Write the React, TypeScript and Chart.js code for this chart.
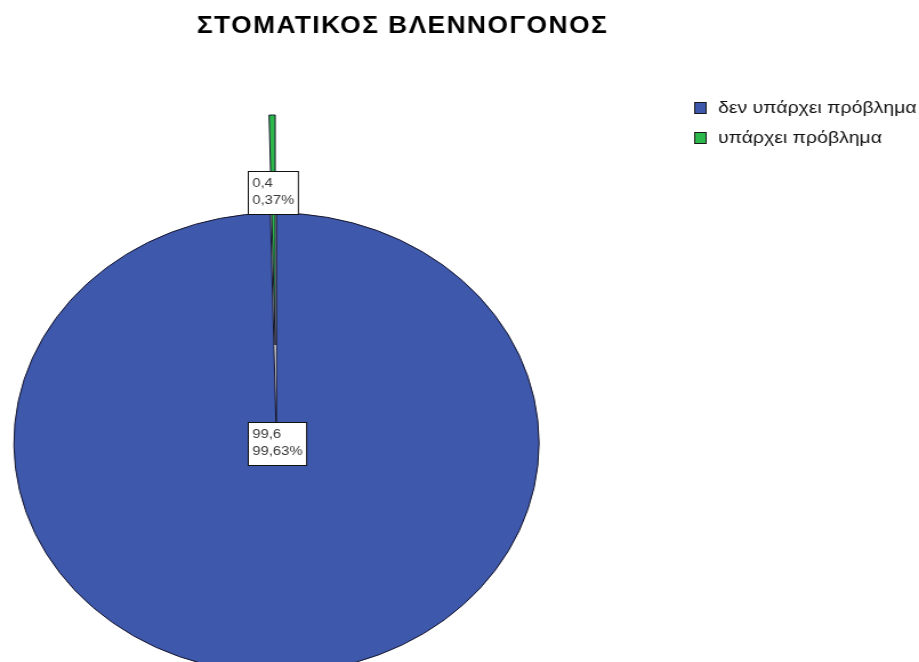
import React, { useEffect, useRef } from 'react';
import { Chart, ArcElement, registerables } from 'chart.js';

Chart.register(...registerables);

const TITLE = 'ΣΤΟΜΑΤΙΚΟΣ ΒΛΕΝΝΟΓΟΝΟΣ';
const categories = ['δεν υπάρχει πρόβλημα', 'υπάρχει πρόβλημα'];
const values = [99.63, 0.37];
const colors = ['#3E58AC', '#2DB84B'];

const W = 919;
const H = 662;
const CW = 805; // canvas drawing width, stretched horizontally to W (the original is stretched)
const SX = W / CW;
const CX = 242.2;
const CY = 443;
const R = 230;
const EXPLODE = [0, 98];
const LABEL_FRAC = [0, 0.665];
const FONT = '"Liberation Sans", Arial, Helvetica, sans-serif';

const explodePlugin = {
  id: 'explodeSlices',
  beforeDatasetDraw(chart: any, args: any) {
    const meta = args.meta;
    meta.data.forEach((el: any, i: number) => {
      const d = EXPLODE[i] || 0;
      if (!d || el.__patched) return;
      el.__patched = true;
      el.draw = function (ctx: CanvasRenderingContext2D) {
        const mid = (this.startAngle + this.endAngle) / 2;
        ctx.save();
        ctx.translate(Math.cos(mid) * d, Math.sin(mid) * d);
        ArcElement.prototype.draw.call(this, ctx);
        ctx.restore();
      };
    });
  },
};

const decorPlugin = {
  id: 'decor',
  afterDraw(chart: any) {
    const ctx: CanvasRenderingContext2D = chart.ctx;
    ctx.save();
    // title
    ctx.fillStyle = '#000';
    ctx.font = `bold 23px ${FONT}`;
    (ctx as any).letterSpacing = '1.3px';
    ctx.textAlign = 'center';
    ctx.textBaseline = 'alphabetic';
    ctx.fillText(TITLE, 352.6, 33);
    (ctx as any).letterSpacing = '0px';

    // legend
    ctx.textAlign = 'left';
    ctx.textBaseline = 'middle';
    ctx.font = `17px ${FONT}`;
    categories.forEach((c, i) => {
      const y = 108 + i * 30;
      ctx.fillStyle = colors[i];
      ctx.fillRect(608.5, y - 5.5, 10, 11);
      ctx.strokeStyle = '#1a1a1a';
      ctx.lineWidth = 1;
      ctx.strokeRect(608.5, y - 5.5, 10, 11);
      ctx.fillStyle = '#111';
      ctx.fillText(c, 629, y);
    });

    // slice labels
    const meta = chart.getDatasetMeta(0);
    const total = values.reduce((a, b) => a + b, 0);
    ctx.font = `13px ${FONT}`;
    meta.data.forEach((el: any, i: number) => {
      const p = el.getProps(['x', 'y', 'startAngle', 'endAngle', 'outerRadius'], true);
      const mid = (p.startAngle + p.endAngle) / 2;
      const d = EXPLODE[i] + LABEL_FRAC[i] * p.outerRadius;
      const lx = p.x + Math.cos(mid) * d;
      const ly = p.y + Math.sin(mid) * d;
      const l1 = values[i].toFixed(1).replace('.', ',');
      const l2 = ((values[i] / total) * 100).toFixed(2).replace('.', ',') + '%';
      const tw = Math.max(ctx.measureText(l1).width, ctx.measureText(l2).width);
      const bw = tw + 7;
      const bh = 43;
      const bx = Math.round(lx - bw / 2) + 0.5;
      const by = Math.round(ly - bh / 2) + 0.5;
      ctx.fillStyle = '#fff';
      ctx.fillRect(bx, by, bw, bh);
      ctx.strokeStyle = '#111';
      ctx.lineWidth = 1;
      ctx.strokeRect(bx, by, bw, bh);
      ctx.fillStyle = '#3a3a3a';
      ctx.fillText(l1, bx + 3.5, ly - 8.5);
      ctx.fillText(l2, bx + 3.5, ly + 8.5);
    });
    ctx.restore();
  },
};

export default function App() {
  const ref = useRef<HTMLCanvasElement>(null);
  useEffect(() => {
    const canvas = ref.current;
    if (!canvas) return;
    const chart = new Chart(canvas, {
      type: 'pie',
      data: {
        labels: categories,
        datasets: [
          {
            data: values,
            backgroundColor: colors,
            borderColor: '#15152a',
            borderWidth: 1,
            radius: R,
            clip: false,
          } as any,
        ],
      },
      options: {
        responsive: false,
        animation: false,
        devicePixelRatio: 1,
        events: [],
        layout: { padding: { left: 0, right: CW - 2 * CX, top: 2 * CY - H, bottom: 0 } },
        plugins: {
          legend: { display: false },
          title: { display: false },
          tooltip: { enabled: false },
        },
      } as any,
      plugins: [explodePlugin, decorPlugin],
    });
    return () => chart.destroy();
  }, []);

  return (
    <div
      style={{
        position: 'absolute',
        left: 0,
        top: 0,
        width: W,
        height: H,
        overflow: 'hidden',
        background: '#fff',
      }}
    >
      <canvas
        ref={ref}
        width={CW}
        height={H}
        style={{
          display: 'block',
          width: CW + 'px',
          height: H + 'px',
          transform: `scaleX(${SX})`,
          transformOrigin: '0 0',
        }}
      />
    </div>
  );
}
